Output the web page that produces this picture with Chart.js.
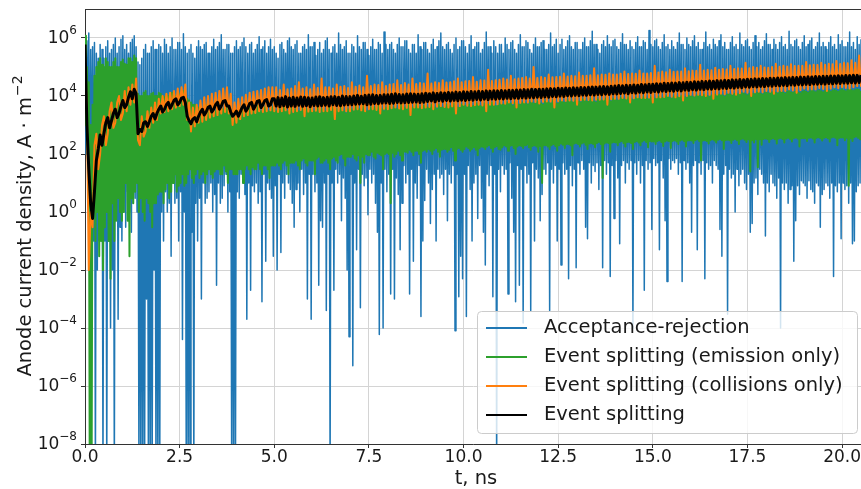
<!DOCTYPE html>
<html>
<head>
<meta charset="utf-8">
<title>Anode current density</title>
<script src="https://cdn.jsdelivr.net/npm/chart.js@4.4.1/dist/chart.umd.min.js"></script>
<style>
  html, body { margin: 0; padding: 0; background: #fff; }
</style>
</head>
<body>
<canvas id="chart-current" width="861" height="489"></canvas>
<script>
// sample spacing of the stored traces, ns
const stepFine = 0.025;  // acceptance-rejection, emission only
const stepMid = 0.05;    // collisions only, full event splitting

const xTicks = [0, 2.5, 5, 7.5, 10, 12.5, 15, 17.5, 20];
const xTickLabels = ["0.0", "2.5", "5.0", "7.5", "10.0", "12.5", "15.0", "17.5", "20.0"];
const yTicks = [1e-8, 1e-6, 1e-4, 1e-2, 1e0, 1e2, 1e4, 1e6];
const yTickExponents = ["\u22128", "\u22126", "\u22124", "\u22122", "0", "2", "4", "6"];

const seriesNames = [
  "Acceptance-rejection",
  "Event splitting (emission only)",
  "Event splitting (collisions only)",
  "Event splitting"
];
const seriesColors = ["#1f77b4", "#2ca02c", "#ff7f0e", "#000000"];

// anode current density, A/m^2, one row per 0.5 ns
const acceptanceRejection = [
  1e6, 1e2, 8e5, 3e2, 1.5e6, 1e0, 4e5, 1e1, 5e5, 1e-1, 7e5, 1e-9, 3e5, 1e-2, 2e5, 1e-1, 6e5, 1e0, 4e5, 1e-9,
  2e5, 1e-1, 5e5, 1e-9, 8e5, 1e0, 3e5, 1e-4, 4e5, 1e-2, 6e5, 1e-9, 1e6, 1e0, 3e5, 2e-4, 5e5, 3e-1, 9e5, 1e-1,
  1.2e6, 1e0, 4e5, 3e-1, 6e5, 5e0, 3e5, 1e0, 7e5, 2e-1, 9e5, 2e0, 1.2e6, 3e0, 5e5, 1e0, 1.5e5, 1e-9, 1.2e5, 1e-9,
  2e5, 1e-9, 4e5, 1e-9, 6e5, 1e-3, 3e5, 1e-9, 3e5, 1e-9, 5e5, 1e-9, 8e5, 1e-2, 4e5, 1e-9, 4e5, 1e-9, 6e5, 1e-9,
  5e5, 1e0, 3e5, 1e-1, 9e5, 5e0, 6e5, 1e0, 3e5, 2e0, 5e5, 3e-2, 1e6, 1e1, 4e5, 2e0, 4e5, 3e0, 7e5, 1e-1,
  7e5, 5e0, 4e5, 4e-5, 1.4e6, 1e0, 5e5, 1e-9, 3e5, 1e-9, 4e5, 1e-9, 6e5, 2e-1, 3e5, 1e-9, 2e5, 2e0, 5e5, 1e-1,
  8e5, 3e0, 5e5, 1e-3, 4e5, 1e1, 6e5, 2e0, 7e5, 3e0, 3e5, 5e0, 3e5, 1e1, 5e5, 1e0, 9e5, 4e0, 4e5, 3e-3,
  5e5, 1e1, 7e5, 2e0, 1.3e6, 3e0, 4e5, 8e0, 4e5, 2e1, 6e5, 1e0, 6e5, 5e0, 3e5, 1e-9, 3e5, 1e-9, 5e5, 1e-9,
  8e5, 5e0, 4e5, 3e0, 5e5, 2e1, 7e5, 1e1, 1e6, 4e0, 5e5, 2e-4, 3e5, 1e1, 6e5, 2e-3, 7e5, 8e0, 3e5, 5e0,
  4e5, 1e1, 6e5, 2e0, 1.1e6, 5e0, 4e5, 8e-4, 5e5, 2e1, 8e5, 2e-2, 3e5, 1e1, 5e5, 6e0, 9e5, 3e0, 4e5, 3e-2,
  5e5, 8e0, 3e5, 1e-2, 2e5, 2e1, 6e5, 4e-2, 7e5, 1e1, 4e5, 3e0, 3e5, 2e1, 8e5, 1e1, 1e6, 6e0, 5e5, 2e0,
  4e5, 3e-1, 6e5, 6e0, 8e5, 1e1, 3e5, 1e0, 3e5, 3e1, 5e5, 4e0, 6e5, 1e1, 4e5, 1e-3, 1.3e6, 2e1, 5e5, 2e-4,
  5e5, 2e1, 7e5, 5e0, 2.5e5, 1e1, 4e5, 3e-3, 7e5, 5e-1, 3e5, 3e-1, 4e5, 1e1, 8e5, 4e-4, 1e6, 2e1, 4e5, 1e-9,
  3e5, 1e1, 5e5, 2e-3, 6e5, 3e1, 3e5, 1e1, 1.5e6, 2e1, 6e5, 5e-1, 4e5, 1.5e1, 5e5, 3e0, 8e5, 1e-2, 3e5, 5e-5,
  3e5, 2e1, 6e5, 5e-6, 5e5, 1e1, 3e5, 5e-2, 1.2e6, 3e1, 5e5, 5e-4, 4e5, 2e1, 7e5, 8e0, 7e5, 1.5e1, 4e5, 8e-1,
  2.5e5, 3e1, 5e5, 1e1, 9e5, 2e1, 4e5, 2e0, 4e5, 2e-1, 7e5, 6e-5, 6e5, 1e1, 3e5, 1e-4, 1.6e6, 3e1, 6e5, 5e0,
  4e5, 2e1, 6e5, 1.5e-3, 7e5, 3e1, 4e5, 1e-3, 3e5, 1.5e1, 6e5, 4e0, 1e6, 5e-2, 5e5, 2e0, 5e5, 4e1, 8e5, 1e1,
  8e5, 2e1, 4e5, 1.5e-3, 3e5, 3e1, 6e5, 2e-2, 6e5, 1e1, 3e5, 3e0, 1.3e6, 4e1, 5e5, 2.5e-4, 4e5, 1e-1, 7e5, 2.5e0,
  7e5, 3e1, 4e5, 1e1, 3e5, 4e-1, 6e5, 6e0, 9e5, 2e1, 4e5, 1e-1, 5e5, 3e1, 8e5, 1.5e1, 1.5e6, 2e1, 5e5, 4e0,
  4e5, 3e1, 6e5, 5e-1, 7e5, 2e1, 4e5, 1e1, 3e5, 4e1, 6e5, 8e-5, 1e6, 2e1, 4e5, 1.2e-3, 5e5, 3e-2, 8e5, 5e-3,
  8e5, 2e1, 5e5, 2.5e-4, 3e5, 4e1, 6e5, 6e0, 1.2e6, 1e-1, 4e5, 1e1, 5e5, 2e1, 7e5, 6e-1, 7e5, 4e1, 3e5, 3e0,
  4e5, 2e-1, 7e5, 1.5e-2, 1.6e6, 2e1, 5e5, 8e0, 5e5, 4e1, 3e5, 1.2e-3, 8e5, 2e1, 5e5, 1e-9, 3e5, 3e1, 6e5, 5e0,
  6e5, 4e1, 3e5, 2e1, 1e6, 3e1, 6e5, 1.5e-3, 4e5, 5e1, 7e5, 3e0, 8e5, 2e-1, 4e5, 8e-4, 3e5, 4e1, 6e5, 3e-3,
  1.3e6, 3e1, 5e5, 1.5e-4, 5e5, 4e1, 8e5, 1e1, 7e5, 2e1, 4e5, 4e-4, 3e5, 5e1, 6e5, 1e-1, 1e6, 3e1, 5e5, 1.5e1,
  5e5, 5e-1, 7e5, 4e0, 8e5, 3e1, 4e5, 2e1, 4e5, 5e1, 6e5, 4e-4, 1.5e6, 3e1, 5e5, 1e1, 6e5, 4e1, 9e5, 1e-1,
  3e5, 3e1, 6e5, 1.5e-2, 9e5, 5e1, 4e5, 2e1, 5e5, 3e1, 8e5, 5e-3, 1.2e6, 4e1, 5e5, 8e0, 4e5, 3e1, 7e5, 1.2e-2,
  7e5, 5e1, 4e5, 2e1, 4e5, 6e1, 7e5, 3e1, 1e6, 3e-1, 5e5, 1.2e-1, 5e5, 5e1, 8e5, 1e1, 1.7e6, 4e1, 6e5, 2.5e1,
  6e5, 5e1, 4e5, 6e0, 3e5, 4e1, 6e5, 1.2e-2, 8e5, 6e1, 5e5, 2e1, 1.2e6, 5e1, 6e5, 6e-3, 5e5, 4e1, 8e5, 6e-1,
  9e5, 6e1, 5e5, 1.5e1, 4e5, 8e-2, 7e5, 4e1, 1.4e6, 6e1, 6e5, 1e1, 6e5, 5e1, 4e5, 3e1, 8e5, 6e1, 5e5, 1e-4,
  4e5, 5e1, 7e5, 2e1, 1.1e6, 6e1, 5e5, 1e1, 5e5, 4e1, 8e5, 2e-3, 7e5, 6e1, 4e5, 3e1, 1.8e6, 5e1, 6e5, 2.5e-1,
  5e5, 7e1, 8e5, 4e1, 9e5, 5e1, 5e5, 5e-2, 4e5, 6e1, 7e5, 1.5e1, 1.3e6, 5e-1, 5e5, 4e-3, 6e5, 7e1, 4e5, 3e1,
  8e5, 6e1, 5e5, 5e1, 4e5, 7e1, 7e5, 2e1, 1.5e6, 5e1, 6e5, 4e-3, 6e5, 6e1, 4e5, 3e1, 1e6, 5e1, 6e5, 1e1,
  5e5, 2e-1, 8e5, 4e1, 1.2e6, 6e1, 5e5, 5e-2, 7e5, 5e1, 4e5, 2e1, 4e5, 6e1, 7e5, 5e-3, 1.6e6, 5e1, 5e5, 3e1,
  6e5, 4e1, 4e5, 1e1, 9e5, 6e1, 6e5, 4e1, 5e5, 3e1, 8e5, 2.5e-1, 1.3e6, 3e-2, 5e5, 2e1, 7e5, 4e1, 4e5, 3e-4,
  4e5, 3e1, 7e5, 1.5e1, 1.1e6, 2e1, 5e5, 1e0, 6e5, 3e1, 4e5, 8e0, 1.5e6, 2e1, 6e5, 3e1, 5e5, 1e1, 8e5, 6e0,
  9e5, 2e1, 5e5, 2e-1, 4e5, 4e-1, 7e5, 1e1, 1.2e6, 1.5e1, 5e5, 4e0, 7e5, 3e1, 4e5, 2e1, 5e5, 1e1, 8e5, 1.5e-1,
  1.4e6, 1e1, 6e5, 5e0, 6e5, 2e1, 4e5, 1e1, 9e5, 8e0, 6e5, 3e0, 4e5, 1.5e1, 7e5, 1e-4, 1.1e6, 1e1, 5e5, 6e0,
  6e5, 1e1, 4e5, 2e0, 1.7e6, 6e0, 6e5, 8e0, 5e5, 2e-2, 8e5, 5e-1, 9e5, 8e0, 5e5, 4e0, 4e5, 1.2e1, 7e5, 1e1,
  1.2e6, 8e0, 5e5, 3e0, 6e5, 1.2e1, 8e5, 6e0, 1e6, 5e0, 4e5, 2e0, 5e5, 1e1, 7e5, 8e0, 1.5e6, 3e-1, 5e5, 4e0,
  7e5, 6e0, 5e5, 1e1, 4e5, 8e0, 7e5, 3e0, 1.1e6, 1e1, 5e5, 6e-3, 6e5, 8e0, 4e5, 5e0, 1.3e6, 1e1, 6e5, 1.2e-1,
  8e5, 1e1, 5e5, 6e0, 5e5, 8e0, 7e5, 2e0, 1.6e6, 1e1, 5e5, 8e-2, 7e5, 1e-1, 4e5, 5e0, 1.1e6, 8e0, 6e5, 1e1,
  9e5
];

// one row per 0.5 ns
const emissionOnly = [
  1.2e6, 1e3, 1e5, 1e2, 3e4, 1e-9, 1e3, 1e-9, 5e3, 1e0, 5e4, 1e-1, 1e5, 1e0, 1.5e5, 3e-2, 2e5, 1e-1, 1.2e5, 1e-2,
  1e5, 3e-1, 2e5, 1e0, 1.5e5, 1e-1, 1e5, 5e-3, 1e5, 2e0, 1.5e5, 1e-1, 2e5, 5e-1, 1e5, 3e0, 1e5, 1e0, 1.5e5, 5e-1,
  1.8e5, 1e0, 1.3e5, 1e1, 1.2e5, 5e-1, 2e5, 3e-2, 2e5, 3e0, 1.5e5, 2e0, 2.5e5, 5e0, 2e5, 1e1, 1.2e4, 1e0, 1e4, 3e0,
  1e4, 1e0, 1.3e4, 5e-1, 1.5e4, 3e0, 1e4, 2e0, 1e4, 1e0, 1.2e4, 3e-1, 1.3e4, 2e0, 1e4, 2e0, 1e4, 4e0, 1.3e4, 5e0,
  1.2e4, 5e0, 1e4, 2e0, 9e3, 6e0, 1.2e4, 1e1, 1e4, 3e0, 1.1e4, 5e0, 1.3e4, 1e1, 1e4, 2e1, 1e4, 5e0, 1.2e4, 8e0,
  1.2e4, 1e1, 1.4e4, 2e1, 1.5e4, 8e0, 1e4, 1e1, 8e3, 2e1, 7e3, 3e1, 6e3, 1.5e1, 5e3, 1e1, 5e3, 2e1, 4e3, 3e1,
  4e3, 1.5e1, 3e3, 2e1, 3e3, 2.5e1, 4e3, 1e1, 5e3, 2e1, 3e3, 3e1, 2.5e3, 2e1, 3.5e3, 1.5e1, 4e3, 2.5e1, 3e3, 3e1,
  3e3, 3e1, 4e3, 2e1, 6e3, 2e1, 3.5e3, 4e1, 3e3, 2.5e1, 4e3, 1e1, 5e3, 3e1, 3e3, 3e1, 2e3, 2e1, 3e3, 2e1,
  2.5e3, 2e1, 4e3, 3e1, 3e3, 3e1, 3.5e3, 1e1, 4e3, 3e1, 3e3, 4e1, 2.5e3, 3e1, 4e3, 2e1, 5e3, 3.5e1, 3e3, 3e1,
  3e3, 3e1, 4.5e3, 5e1, 4e3, 3e1, 3e3, 2e1, 2.5e3, 4e1, 4e3, 4e1, 5e3, 3e1, 3e3, 1.5e1, 3e3, 4e1, 4e3, 4e1,
  4e3, 4e1, 3e3, 5e1, 2.5e3, 4e1, 4e3, 3e1, 3.5e3, 5e1, 4.5e3, 6e1, 5e3, 4e1, 3e3, 2e1, 3e3, 5e1, 4e3, 5e1,
  2.5e3, 5e1, 3.5e3, 6e1, 4e3, 4e1, 3e3, 3e1, 3e3, 6e1, 4e3, 7e1, 5.5e3, 5e1, 3.5e3, 4e1, 3e3, 6e1, 4e3, 6e1,
  4e3, 6e1, 3e3, 2e1, 3e3, 7e1, 4e3, 8e1, 2.5e3, 5e1, 3.5e3, 5e1, 4.5e3, 6e1, 3e3, 7e1, 3e3, 5e1, 4e3, 3e1,
  3.5e3, 7e1, 4e3, 8e1, 5e3, 6e1, 3.5e3, 5e1, 3e3, 9e1, 4e3, 1e2, 4e3, 7e1, 3e3, 4e1, 2.5e3, 8e1, 3.5e3, 8e1,
  4e3, 8e1, 3.5e3, 1e2, 3e3, 7e1, 4.5e3, 6e1, 5e3, 9e1, 3.5e3, 1e1, 3.5e3, 8e1, 4.5e3, 5e1, 4e3, 1e2, 3e3, 9e1,
  3e3, 9e1, 4e3, 1.2e2, 5.5e3, 8e1, 4e3, 7e1, 3.5e3, 1.1e2, 4.5e3, 1e2, 4.5e3, 9e1, 3.5e3, 3e1, 3e3, 1e2, 4e3, 1.1e2,
  4e3, 1e2, 5e3, 2e0, 3.5e3, 1.1e2, 4e3, 8e1, 5e3, 1e2, 3.5e3, 1.3e2, 4e3, 9e1, 5e3, 6e1, 6e3, 1.2e2, 4e3, 1.2e2,
  3.5e3, 1.1e2, 5e3, 1.4e2, 4.5e3, 1.2e2, 4e3, 9e1, 4e3, 1.3e2, 5e3, 1.3e2, 5.5e3, 1e2, 4e3, 5e1, 3.5e3, 1.3e2, 4.5e3, 1.4e2,
  5e3, 1.2e2, 4e3, 1.5e2, 4e3, 1.3e2, 5e3, 1e2, 6e3, 1.4e2, 4e3, 1.6e2, 3.5e3, 1.2e2, 5e3, 8e1, 5e3, 1.4e2, 4e3, 1.5e2,
  4e3, 1.5e2, 5e3, 1.2e2, 6e3, 1.4e2, 4.5e3, 1.7e2, 4.5e3, 1.3e2, 5.5e3, 6e1, 5e3, 1.5e2, 4e3, 1.6e2, 4e3, 1.4e2, 5e3, 1.2e2,
  5.5e3, 1.5e2, 4.5e3, 1.8e2, 4e3, 1.6e2, 5e3, 1.3e2, 6e3, 1.5e2, 4.5e3, 1.7e2, 4.5e3, 1.4e2, 5.5e3, 9e1, 5e3, 1.6e2, 4.5e3, 1.8e2,
  4.5e3, 1.7e2, 5.5e3, 1.5e2, 6.5e3, 1.8e2, 5e3, 2e2, 5e3, 1.6e2, 6e3, 1.2e2, 5.5e3, 1.7e2, 4.5e3, 1.9e2, 4.5e3, 1.5e2, 5.5e3, 1.4e2,
  6e3, 1.7e2, 5e3, 2e2, 5e3, 1.8e2, 6e3, 1.3e2, 7e3, 1.9e2, 5.5e3, 2e2, 4.5e3, 1.6e2, 6e3, 1e2, 6e3, 1.8e2, 5e3, 2e2,
  5e3, 1.9e2, 6e3, 1.6e2, 6.5e3, 2e2, 5.5e3, 2.2e2, 5e3, 1.7e2, 6e3, 1.4e2, 7e3, 1.9e2, 5.5e3, 2e2, 5.5e3, 1.8e2, 6.5e3, 1.2e2,
  6e3, 1.9e2, 5.5e3, 1e1, 5e3, 2e2, 6.5e3, 2e2, 7.5e3, 1.8e2, 6e3, 1.5e2, 5.5e3, 2e2, 7e3, 2.2e2, 6.5e3, 1.9e2, 5.5e3, 1.3e2,
  5.5e3, 2e2, 6.5e3, 2.3e2, 7e3, 2.1e2, 6e3, 1.6e2, 6e3, 2.2e2, 7e3, 2.2e2, 8e3, 2e2, 6.5e3, 9e1, 6e3, 2.3e2, 7e3, 2.4e2,
  7e3, 2.2e2, 6.5e3, 1.8e2, 6e3, 2.3e2, 7.5e3, 2.5e2, 8e3, 2.1e2, 6.5e3, 1.5e2, 6.5e3, 2.3e2, 8e3, 2.4e2, 7.5e3, 2.2e2, 6.5e3, 1.7e2,
  6e3, 2.4e2, 7.5e3, 2.6e2, 8.5e3, 2.2e2, 7e3, 1.5e1, 7e3, 2.3e2, 8e3, 2.5e2, 9e3, 2.4e2, 7e3, 1.2e2, 6.5e3, 2.5e2, 8e3, 2.6e2,
  8e3, 2.5e2, 7e3, 2e2, 7e3, 2.6e2, 8.5e3, 2.8e2, 9e3, 2.4e2, 7.5e3, 1.8e2, 7.5e3, 2.6e2, 9e3, 2.6e2, 8.5e3, 2.4e2, 7.5e3, 1.5e2,
  7e3, 2.6e2, 8.5e3, 2.8e2, 9.5e3, 2.5e2, 8e3, 2e2, 8e3, 2.7e2, 9e3, 3e2, 1e4, 2.6e2, 8e3, 1.7e2, 7.5e3, 2.8e2, 9e3, 2.7e2,
  9e3, 2.7e2, 8e3, 2.2e2, 8e3, 2.8e2, 9.5e3, 3e2, 1.05e4, 2.6e2, 8.5e3, 1.9e2, 8.5e3, 2.7e2, 1e4, 2.9e2, 9.5e3, 2.8e2, 8.5e3, 1.6e2,
  8e3, 2.8e2, 9.5e3, 3e2, 1.1e4, 2.7e2, 9e3, 2.2e2, 9e3, 2.9e2, 1e4, 3.1e2, 1e4, 2.8e2, 9e3, 1.8e2, 8.5e3, 2.9e2, 1e4, 3e2,
  1.05e4, 2.9e2, 9.5e3, 2.4e2, 9e3, 3e2, 1.05e4, 3.2e2, 1.15e4, 2.8e2, 1e4, 6e1, 9.5e3, 2.9e2, 1.1e4, 3e2, 1.1e4, 2.8e2, 1e4, 2.3e2,
  9e3, 3e2, 1.05e4, 3.2e2, 1.2e4, 2.9e2, 1.1e4, 2.5e2, 1e4, 3.1e2, 1.1e4, 3.3e2, 1.15e4, 3e2, 1.05e4, 1.5e2, 9.5e3, 3e2, 1.1e4, 3.1e2,
  1.2e4, 3e2, 1.1e4, 2.4e2, 1.05e4, 3.1e2, 1.2e4, 3.3e2, 1.3e4, 3e2, 1.15e4, 2.2e2, 1.1e4, 3.2e2, 1.25e4, 3.4e2, 1.25e4, 3.1e2, 1.15e4, 2.6e2,
  1.05e4, 3.2e2, 1.2e4, 2.5e1, 1.35e4, 3e2, 1.2e4, 2.5e2, 1.15e4, 3.3e2, 1.3e4, 3.5e1, 1.3e4, 3.2e2, 1.2e4, 2.1e2, 1.1e4, 3.3e2, 1.3e4, 3.4e2,
  1.35e4, 3.3e2, 1.25e4, 2.6e2, 1.2e4, 3.3e2, 1.35e4, 3.5e2, 1.45e4, 3.2e2, 1.3e4, 2.3e2, 1.2e4, 3.4e2, 1.4e4, 3.6e2, 1.4e4, 3.3e2, 1.3e4, 2.5e2,
  1.2e4, 3.4e2, 1.4e4, 3.6e2, 1.5e4, 3.3e2, 1.35e4, 2.7e2, 1.3e4, 3.5e2, 1.4e4, 3.7e2, 1.45e4, 3.4e2, 1.3e4, 1.8e2, 1.25e4, 3.5e2, 1.4e4, 3.5e2,
  1.5e4, 3.5e2, 1.4e4, 2.8e2, 1.3e4, 3.6e2, 1.45e4, 3.7e2, 1.6e4, 3.4e2, 1.45e4, 2.5e2, 1.35e4, 3.6e2, 1.5e4, 3.8e2, 1.55e4, 3.5e2, 1.45e4, 2.9e2,
  1.35e4, 3.6e2, 1.5e4, 3.8e2, 1.65e4, 3.5e2, 1.5e4, 2.7e2, 1.4e4, 3.7e2, 1.55e4, 3.9e2, 1.6e4, 3.6e2, 1.5e4, 2e2, 1.4e4, 3.6e2, 1.55e4, 3.7e2,
  1.7e4, 3.7e2, 1.55e4, 3e2, 1.45e4, 3.6e2, 1.6e4, 8e0, 1.75e4, 3.5e2, 1.6e4, 2.8e2, 1.5e4, 3.8e2, 1.65e4, 4e2, 1.7e4, 3.6e2, 1.6e4, 3.2e2,
  1.5e4
];

// one row per 1 ns
const collisionsOnly = [
  2e5, 3e3, 1e-2, 1e0, 3e-1, 2e2, 5e2, 3e1, 1e2, 1e3, 2e3, 2e2, 5e2, 3e3, 6e3, 8e2, 1.2e3, 6e3, 1e4, 1.5e3,
  2.5e3, 1.5e4, 3e3, 2e4, 5e3, 2.5e4, 6e3, 4e4, 3e2, 2e2, 2e3, 4e2, 6e2, 3e3, 8e2, 4e3, 1.2e3, 6e3, 1.5e3, 8e3,
  2.5e3, 1e4, 2.8e3, 1.2e4, 3e3, 1.3e4, 3.5e3, 1.5e4, 4e3, 1.8e4, 4.5e3, 2e4, 5e3, 2.5e4, 1.5e3, 6e3, 6e2, 4e3, 9e2, 5e3,
  1.2e3, 7e3, 1.3e3, 9e3, 1.5e3, 1e4, 1.8e3, 1.2e4, 2e3, 1.3e4, 2.2e3, 1.5e4, 2.5e3, 1.8e4, 2.8e3, 2e4, 2.5e3, 1.2e4, 1e3, 6e3,
  1.2e3, 8e3, 1.6e3, 9e3, 2e3, 1.1e4, 2.2e3, 1.3e4, 2.5e3, 1.4e4, 2.6e3, 1.5e4, 3e3, 1.6e4, 2.8e3, 1.8e4, 3e3, 2e4, 3.2e3, 2e4,
  3e3, 2e4, 2.8e3, 1.6e4, 3e3, 2.5e4, 3.2e3, 1.7e4, 2.5e3, 1.8e4, 2.8e3, 2.2e4, 3e3, 3e4, 3.3e3, 1.8e4, 2e3, 2e4, 2.9e3, 1.7e4,
  3e3, 2.5e4, 3.1e3, 1.9e4, 2.8e3, 4e4, 3e3, 2e4, 3e3, 2e4, 3.3e3, 1.8e4, 1.6e3, 2.5e4, 3e3, 2.1e4, 3.2e3, 2.2e4, 3e3, 1.9e4,
  3e3, 3e4, 3.4e3, 2.1e4, 3.5e3, 2.3e4, 3.2e3, 2e4, 3e3, 5e4, 3.5e3, 2.2e4, 3.5e3, 2.5e4, 3.3e3, 2.4e4, 2.5e3, 3e4, 3.6e3, 2.2e4,
  3.5e3, 2.5e4, 3.8e3, 2.6e4, 4e3, 3.5e4, 3.7e3, 2.4e4, 3.5e3, 2.8e4, 3.9e3, 2.5e4, 2.2e3, 4e4, 4e3, 2.6e4, 4e3, 2.8e4, 3.8e3, 2.7e4,
  4e3, 6e4, 4.2e3, 2.7e4, 3.5e3, 3e4, 4.3e3, 2.8e4, 4.5e3, 3.5e4, 4.2e3, 2.9e4, 4e3, 3e4, 4.4e3, 3.2e4, 2.5e3, 4e4, 4.5e3, 3e4,
  5e3, 3.2e4, 4.6e3, 3.3e4, 4.5e3, 4.5e4, 4.8e3, 3.1e4, 5e3, 3.5e4, 4.7e3, 3.4e4, 3e3, 8e4, 5e3, 3.3e4, 5e3, 3.5e4, 5.2e3, 3.6e4,
  5.5e3, 4e4, 5.4e3, 3.7e4, 6e3, 5e4, 5.6e3, 3.8e4, 4e3, 4e4, 5.8e3, 4.2e4, 6e3, 4.5e4, 6e3, 4e4, 6.5e3, 1e5, 6.2e3, 4.2e4,
  5.5e3, 4.5e4, 6.3e3, 4.3e4, 6.5e3, 5.5e4, 6.4e3, 4.4e4, 4e3, 4.5e4, 6.6e3, 4.6e4, 7e3, 6e4, 6.8e3, 4.7e4, 7e3, 5e4, 6.9e3, 4.8e4,
  5e3, 6.5e4, 7.2e3, 5e4, 7.5e3, 5e4, 7.3e3, 5.2e4, 7e3, 9e4, 7.4e3, 5.2e4, 7.5e3, 5.5e4, 7.6e3, 5.4e4, 5e3, 6e4, 7.8e3, 5.5e4,
  8e3, 5.5e4, 8e3, 5.8e4, 8.5e3, 7e4, 8.2e3, 5.7e4, 6e3, 6e4, 8.4e3, 5.9e4, 9e3, 7.5e4, 8.6e3, 6e4, 8.5e3, 6e4, 8.8e3, 6.2e4,
  6e3, 1.1e5, 9e3, 6.5e4, 9e3, 7e4, 9.3e3, 6.6e4, 1e4, 8e4, 9.5e3, 6.8e4, 9e3, 7e4, 9.8e3, 7e4, 7e3, 9e4, 1e4, 7.2e4,
  1.1e4, 7.5e4, 1.05e4, 7.4e4, 1.1e4, 1.2e5, 1.07e4, 7.6e4, 1e4, 8e4, 1.1e4, 7.8e4, 8e3, 9.5e4, 1.12e4, 8e4, 1.2e4, 8.5e4, 1.15e4, 8.2e4,
  1.3e4, 1.1e5, 1.2e4, 8.6e4, 1.1e4, 9e4, 1.25e4, 8.8e4, 1.4e4, 1.4e5, 1.3e4, 9e4, 1e4, 1e5, 1.35e4, 9.4e4, 1.4e4, 1.1e5, 1.35e4, 9.6e4,
  1.5e4, 9.5e4, 1.4e4, 1e5, 1.2e4, 1.3e5, 1.45e4, 1.02e5, 1.5e4, 1.1e5, 1.5e4, 1.05e5, 1.7e4, 1.25e5, 1.55e4, 1.08e5, 1.3e4, 1.1e5, 1.6e4, 1.1e5,
  1.8e4, 1.5e5, 1.65e4, 1.15e5, 1.7e4, 1.2e5, 1.7e4, 1.18e5, 1.9e4, 1.4e5, 1.75e4, 1.2e5, 1.5e4, 1.3e5, 1.8e4, 1.25e5, 2e4, 1.6e5, 1.85e4, 1.28e5,
  2e4, 1.4e5, 1.9e4, 1.35e5, 1.8e4, 1.7e5, 2e4, 1.4e5, 2.2e4, 2.5e5, 2.1e4
];

// one row per 1 ns
const eventSplitting = [
  6e5, 1e3, 3e1, 2e0, 6e-1, 5e0, 6e1, 1.5e2, 4.5e2, 2e2, 5e2, 1.2e3, 1.8e3, 8e2, 1.4e3, 2.5e3, 3.5e3, 1.8e3, 2.5e3, 4.5e3,
  7e3, 4e3, 5e3, 9e3, 1.4e4, 8e3, 1.7e4, 1.2e4, 5e2, 7e2, 6e2, 1.2e3, 1.3e3, 9e2, 1.3e3, 2e3, 2.5e3, 1.6e3, 2.5e3, 3.5e3,
  4.5e3, 2.8e3, 3.5e3, 5e3, 6e3, 3.8e3, 5e3, 7e3, 8e3, 5e3, 6e3, 8.5e3, 9e3, 6e3, 2e3, 1.4e3, 1.1e3, 1.6e3, 1.8e3, 1.3e3,
  2e3, 2.8e3, 3.5e3, 2.2e3, 2.8e3, 4e3, 4.5e3, 2.8e3, 3.5e3, 5e3, 6e3, 3.5e3, 4.5e3, 6.5e3, 7e3, 4.5e3, 4.5e3, 2.8e3, 2e3, 2.4e3,
  3e3, 2e3, 2.8e3, 4e3, 5e3, 3e3, 3.8e3, 5.5e3, 6e3, 3.5e3, 4.5e3, 6.5e3, 7e3, 4e3, 5e3, 7e3, 7.5e3, 4.5e3, 5e3, 8e3,
  8e3, 4.5e3, 8.8e3, 4.3e3, 8.5e3, 4.6e3, 9.5e3, 4.2e3, 8.6e3, 4.5e3, 9e3, 4.4e3, 8.5e3, 4.8e3, 9.2e3, 4.4e3, 9e3, 4.6e3, 8.7e3, 4.3e3,
  8.5e3, 4.7e3, 9.2e3, 4.5e3, 9.5e3, 4.6e3, 8.8e3, 4.8e3, 9e3, 4.5e3, 9.4e3, 5e3, 9.5e3, 4.7e3, 9.1e3, 4.6e3, 1e4, 4.9e3, 9.6e3, 5e3,
  9.5e3, 5e3, 1e4, 5.2e3, 1.05e4, 5.3e3, 9.8e3, 5.4e3, 1.05e4, 5e3, 1.08e4, 5.2e3, 1.1e4, 5.5e3, 1.04e4, 5.4e3, 1.05e4, 5.7e3, 1.1e4, 5.8e3,
  1.1e4, 5.5e3, 1.15e4, 5.6e3, 1.2e4, 6e3, 1.12e4, 5.8e3, 1.1e4, 5.9e3, 1.18e4, 6e3, 1.2e4, 6.1e3, 1.16e4, 6.2e3, 1.15e4, 6e3, 1.2e4, 6.1e3,
  1.25e4, 6.5e3, 1.2e4, 6.8e3, 1.28e4, 6.3e3, 1.22e4, 6.9e3, 1.3e4, 6.6e3, 1.27e4, 7e3, 1.33e4, 6.7e3, 1.3e4, 7.1e3, 1.36e4, 6.9e3, 1.33e4, 7.2e3,
  1.4e4, 7e3, 1.36e4, 7.4e3, 1.42e4, 7.2e3, 1.4e4, 7.6e3, 1.46e4, 7.3e3, 1.43e4, 7.8e3, 1.5e4, 7.5e3, 1.47e4, 7.9e3, 1.52e4, 7.7e3, 1.5e4, 8.1e3,
  1.55e4, 7.9e3, 1.52e4, 8.3e3, 1.58e4, 8.1e3, 1.56e4, 8.5e3, 1.62e4, 8.3e3, 1.6e4, 8.7e3, 1.66e4, 8.5e3, 1.64e4, 8.9e3, 1.7e4, 8.7e3, 1.68e4, 9.1e3,
  1.72e4, 8.9e3, 1.7e4, 9.3e3, 1.76e4, 9.1e3, 1.8e4, 9.6e3, 1.78e4, 9.4e3, 1.84e4, 9.9e3, 1.82e4, 9.7e3, 1.88e4, 1.02e4, 1.86e4, 1e4, 1.92e4, 1.05e4,
  1.9e4, 1.03e4, 1.96e4, 1.08e4, 1.94e4, 1.06e4, 2e4, 1.1e4, 2.05e4, 1.08e4, 2.02e4, 1.13e4, 2.08e4, 1.11e4, 2.12e4, 1.16e4, 2.1e4, 1.14e4, 2.16e4, 1.19e4,
  2.2e4, 1.18e4, 2.3e4, 1.22e4, 2.25e4, 1.26e4, 2.35e4, 1.2e4, 2.3e4, 1.3e4, 2.4e4, 1.26e4, 2.35e4, 1.34e4, 2.5e4, 1.3e4, 2.45e4, 1.38e4, 2.55e4, 1.33e4,
  2.55e4, 1.42e4, 2.65e4, 1.38e4, 2.6e4, 1.47e4, 2.75e4, 1.43e4, 2.7e4, 1.5e4, 2.8e4, 1.46e4, 2.78e4, 1.55e4, 2.9e4, 1.5e4, 2.85e4, 1.6e4, 3e4, 1.57e4,
  2.95e4, 1.65e4, 3.1e4, 1.6e4, 3.05e4, 1.7e4, 3.2e4, 1.66e4, 3.15e4, 1.75e4, 3.3e4, 1.72e4, 3.25e4, 1.8e4, 3.4e4, 1.76e4, 3.35e4, 1.86e4, 3.5e4, 1.82e4,
  3.45e4, 1.92e4, 3.6e4, 1.88e4, 3.55e4, 1.98e4, 3.7e4, 1.94e4, 3.65e4, 2.05e4, 3.8e4, 2e4, 3.75e4, 2.1e4, 3.9e4, 2.06e4, 3.85e4, 2.15e4, 4e4, 2.12e4,
  3.95e4, 2.22e4, 4.1e4, 2.18e4, 4.05e4, 2.28e4, 4.2e4, 2.24e4, 4.15e4, 2.32e4, 4.3e4, 2.28e4, 4.25e4, 2.4e4, 4.4e4, 2.35e4, 4.35e4, 2.45e4, 4.5e4, 2.42e4,
  4.45e4, 2.52e4, 4.6e4, 2.48e4, 4.55e4, 2.58e4, 4.7e4, 2.54e4, 4.65e4, 2.62e4, 4.8e4, 2.58e4, 4.75e4, 2.68e4, 4.9e4, 2.64e4, 4.85e4, 2.74e4, 5e4, 2.7e4,
  4.95e4, 2.8e4, 5.1e4, 2.76e4, 5.05e4, 2.86e4, 5.2e4, 2.82e4, 5.15e4, 2.9e4, 5.25e4
];

function toPoints(values, step) {
  return values.map((v, i) => ({ x: i * step, y: v }));
}

const FONT = "'DejaVu Sans', 'Liberation Sans', sans-serif";

// tick labels, axis titles, top spine and the legend box
const axisDecor = {
  id: "axisDecor",
  afterDraw(chart) {
    const { ctx, chartArea, scales } = chart;
    ctx.save();

    // top spine (left and bottom come from the scale borders)
    ctx.strokeStyle = "#333";
    ctx.lineWidth = 1;
    ctx.beginPath();
    ctx.moveTo(chartArea.left, chartArea.top + 0.5);
    ctx.lineTo(chartArea.right, chartArea.top + 0.5);
    ctx.stroke();

    ctx.fillStyle = "#1a1a1a";

    // x tick labels
    ctx.font = "17px " + FONT;
    ctx.textAlign = "center";
    ctx.textBaseline = "middle";
    xTicks.forEach((v, i) => {
      ctx.fillText(xTickLabels[i], scales.x.getPixelForValue(v), chartArea.bottom + 14);
    });

    // y tick labels as 10 with a raised exponent
    ctx.textAlign = "right";
    yTicks.forEach((v, i) => {
      const y = scales.y.getPixelForValue(v);
      const right = chartArea.left - 8;
      ctx.font = "12px " + FONT;
      const expWidth = ctx.measureText(yTickExponents[i]).width;
      ctx.fillText(yTickExponents[i], right, y - 7);
      ctx.font = "17px " + FONT;
      ctx.fillText("10", right - expWidth, y + 0.5);
    });

    // x axis title
    ctx.font = "19.5px " + FONT;
    ctx.textAlign = "center";
    ctx.fillText("t, ns", 476, 479);

    // y axis title with m^-2
    ctx.save();
    ctx.translate(26, (chartArea.top + chartArea.bottom) / 2);
    ctx.rotate(-Math.PI / 2);
    const mainText = "Anode current density, A \u00b7 m";
    const supText = "\u22122";
    ctx.font = "19.5px " + FONT;
    const mainWidth = ctx.measureText(mainText).width;
    ctx.font = "14px " + FONT;
    const supWidth = ctx.measureText(supText).width;
    const x0 = -(mainWidth + supWidth) / 2;
    ctx.textAlign = "left";
    ctx.font = "19.5px " + FONT;
    ctx.fillText(mainText, x0, 0);
    ctx.font = "14px " + FONT;
    ctx.fillText(supText, x0 + mainWidth + 1, -8);
    ctx.restore();

    // legend
    const box = { x: 477.5, y: 311.5, w: 380, h: 122 };
    ctx.beginPath();
    ctx.roundRect(box.x, box.y, box.w, box.h, 4);
    ctx.fillStyle = "rgba(255, 255, 255, 0.8)";
    ctx.fill();
    ctx.strokeStyle = "#cccccc";
    ctx.lineWidth = 1;
    ctx.stroke();

    ctx.font = "19.5px " + FONT;
    ctx.textAlign = "left";
    ctx.textBaseline = "middle";
    seriesNames.forEach((name, i) => {
      const y = 328 + i * 29;
      ctx.strokeStyle = seriesColors[i];
      ctx.lineWidth = 2;
      ctx.beginPath();
      ctx.moveTo(486, y);
      ctx.lineTo(527, y);
      ctx.stroke();
      ctx.fillStyle = "#1a1a1a";
      ctx.fillText(name, 544, y);
    });

    ctx.restore();
  }
};

document.addEventListener("DOMContentLoaded", function () {
  const ctx = document.getElementById("chart-current").getContext("2d");

  const traces = [
    { values: acceptanceRejection, step: stepFine, width: 1.5 },
    { values: emissionOnly, step: stepFine, width: 2 },
    { values: collisionsOnly, step: stepMid, width: 2 },
    { values: eventSplitting, step: stepMid, width: 3 }
  ];

  new Chart(ctx, {
    type: "line",
    data: {
      datasets: traces.map((tr, i) => ({
        label: seriesNames[i],
        data: toPoints(tr.values, tr.step),
        borderColor: seriesColors[i],
        backgroundColor: seriesColors[i],
        borderWidth: tr.width,
        borderJoinStyle: "round",
        pointRadius: 0,
        tension: 0,
        fill: false,
        clip: 0,
        // later traces sit on top of earlier ones
        order: seriesNames.length - i
      }))
    },
    options: {
      responsive: false,
      animation: false,
      devicePixelRatio: 1,
      events: [],
      layout: { padding: { top: 9, right: 0, bottom: 0, left: 0 } },
      plugins: {
        legend: { display: false },
        tooltip: { enabled: false }
      },
      scales: {
        x: {
          type: "linear",
          min: 0,
          max: 20.5,
          afterBuildTicks: (scale) => {
            scale.ticks = xTicks.map((v) => ({ value: v }));
          },
          afterFit: (scale) => {
            scale.height = 45;
          },
          ticks: { display: false },
          grid: {
            color: "#d4d4d4",
            lineWidth: 1,
            drawTicks: true,
            tickLength: 4,
            tickColor: "#333"
          },
          border: { display: true, color: "#333", width: 1 }
        },
        y: {
          type: "logarithmic",
          min: 1e-8,
          max: 1e7,
          afterBuildTicks: (scale) => {
            scale.ticks = yTicks.map((v) => ({ value: v }));
          },
          afterFit: (scale) => {
            scale.width = 85;
          },
          ticks: { display: false },
          grid: {
            color: "#d4d4d4",
            lineWidth: 1,
            drawTicks: true,
            tickLength: 4,
            tickColor: "#333"
          },
          border: { display: true, color: "#333", width: 1 }
        }
      }
    },
    plugins: [axisDecor]
  });
});
</script>
</body>
</html>
